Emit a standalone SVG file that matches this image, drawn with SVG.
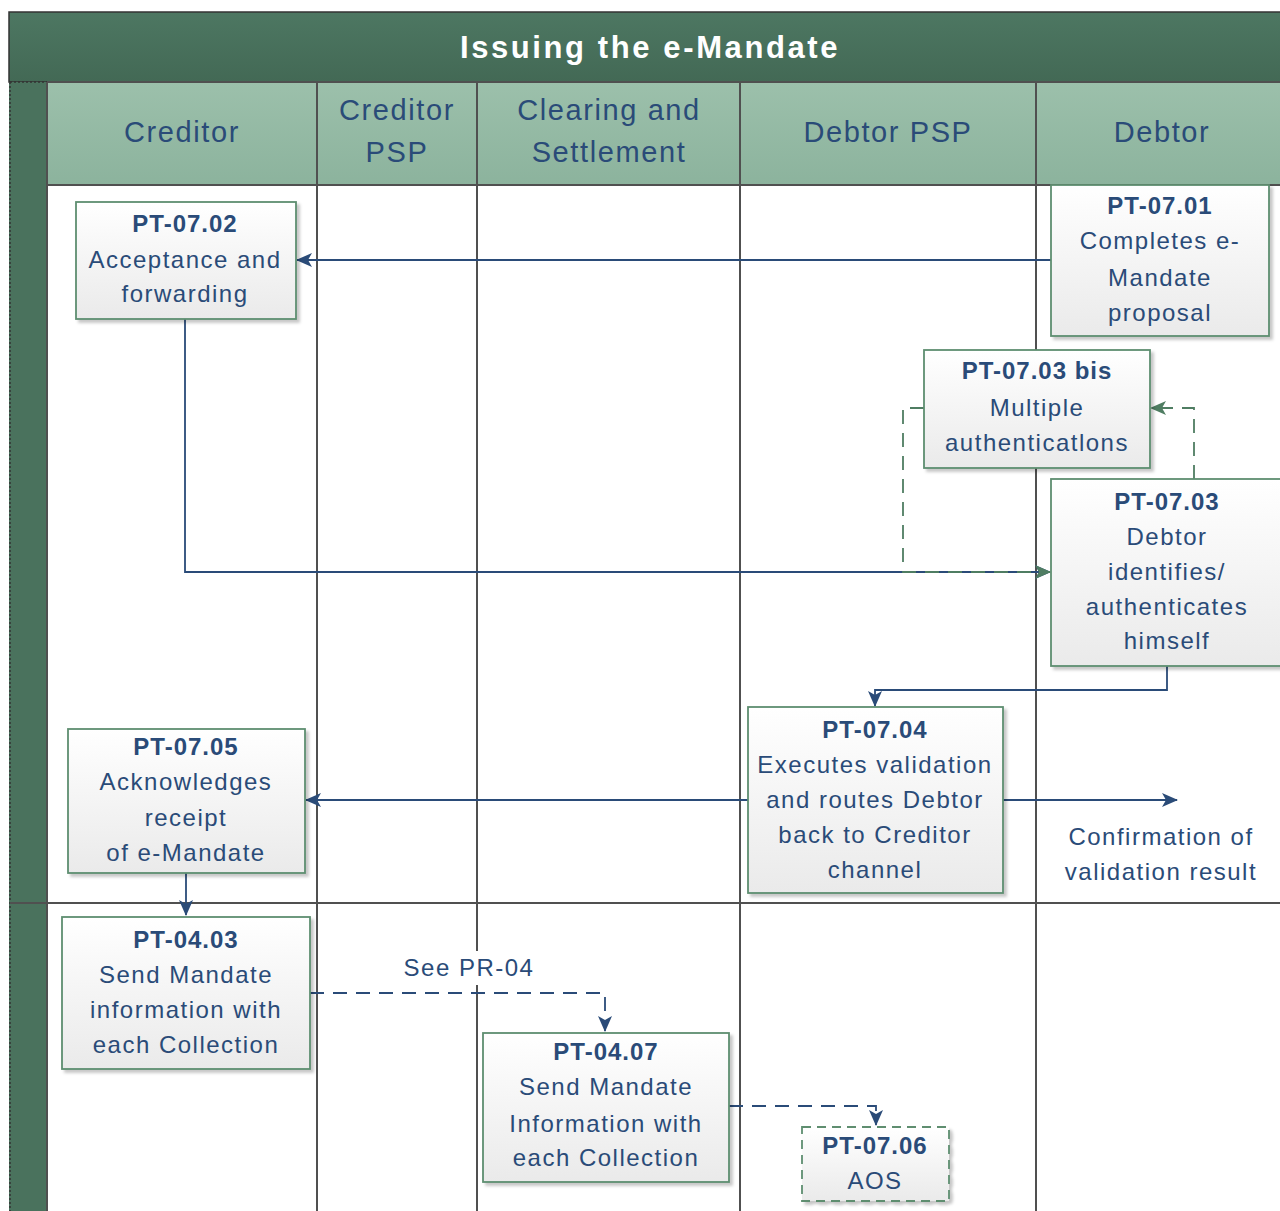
<svg xmlns="http://www.w3.org/2000/svg" width="1280" height="1211" viewBox="0 0 1280 1211">
<defs>
<linearGradient id="gTitle" x1="0" y1="0" x2="0" y2="1"><stop offset="0" stop-color="#4D7762"/><stop offset="1" stop-color="#436955"/></linearGradient>
<linearGradient id="gHead" x1="0" y1="0" x2="0" y2="1"><stop offset="0" stop-color="#9CC0AB"/><stop offset="1" stop-color="#8CB39D"/></linearGradient>
<linearGradient id="gBox" x1="0" y1="0" x2="0" y2="1"><stop offset="0" stop-color="#FFFFFF"/><stop offset="1" stop-color="#EAEAEA"/></linearGradient>
<filter id="shadow" x="-10%" y="-10%" width="130%" height="130%"><feDropShadow dx="3" dy="3" stdDeviation="1.5" flood-color="#000" flood-opacity="0.22"/></filter>
<marker id="arrB" markerUnits="userSpaceOnUse" viewBox="0 0 18 18" markerWidth="18" markerHeight="18" refX="16" refY="9" orient="auto"><path d="M1,2 L17,9 L1,16 L5,9 Z" fill="#2A4B78"/></marker>
<marker id="arrG" markerUnits="userSpaceOnUse" viewBox="0 0 18 18" markerWidth="18" markerHeight="18" refX="16" refY="9" orient="auto"><path d="M1,2 L17,9 L1,16 L5,9 Z" fill="#4F7D62"/></marker>
<style>
.box{fill:url(#gBox);stroke:#5E8E70;stroke-width:1.8;filter:url(#shadow)}
.dbox{fill:url(#gBox);stroke:#5E8E70;stroke-width:1.8;stroke-dasharray:9 6;filter:url(#shadow)}
.t{font-family:"Liberation Sans",Arial,sans-serif;font-size:24px;fill:#2A4B78;text-anchor:middle;letter-spacing:1.5px}
.b{font-weight:bold;letter-spacing:1px}
.h{font-family:"Liberation Sans",Arial,sans-serif;font-size:29px;fill:#2A4B78;text-anchor:middle;letter-spacing:1.6px}
.grid{stroke:#505050;stroke-width:2;fill:none}
.cb{stroke:#2A4B78;stroke-width:1.8;fill:none}
.cbd{stroke:#2A4B78;stroke-width:1.8;fill:none;stroke-dasharray:14 9}
.cgd{stroke:#4F7D62;stroke-width:1.8;fill:none;stroke-dasharray:14 9}
</style>
</defs>
<rect width="1280" height="1211" fill="#FFFFFF"/>
<g id="pool">
<rect x="9" y="12" width="1280" height="70" fill="url(#gTitle)" stroke="#333" stroke-width="1.5"/>
<text x="650" y="58" font-family="'Liberation Sans',Arial,sans-serif" font-size="31" font-weight="bold" fill="#FFFFFF" text-anchor="middle" letter-spacing="2.6">Issuing the e-Mandate</text>
<rect x="9" y="82" width="38" height="1135" fill="#4A725D"/>
<line x1="10" y1="82" x2="10" y2="1211" stroke="#333" stroke-width="1.5" stroke-dasharray="2 2"/>
<line x1="10" y1="82" x2="47" y2="82" stroke="#333" stroke-width="1.5" stroke-dasharray="2 2"/>
<rect x="47" y="82" width="1240" height="103" fill="url(#gHead)"/>
</g>
<g id="grid" class="grid">
<line x1="47" y1="82" x2="1280" y2="82"/>
<line x1="47" y1="185" x2="1280" y2="185"/>
<line x1="47" y1="82" x2="47" y2="1211"/>
<line x1="317" y1="82" x2="317" y2="1211"/>
<line x1="477" y1="82" x2="477" y2="1211"/>
<line x1="740" y1="82" x2="740" y2="1211"/>
<line x1="1036" y1="82" x2="1036" y2="1211"/>
<line x1="10" y1="903" x2="1280" y2="903"/>
</g>
<g id="headers">
<text class="h" x="182" y="142">Creditor</text>
<text class="h" x="397" y="120">Creditor</text>
<text class="h" x="397" y="162">PSP</text>
<text class="h" x="609" y="120">Clearing and</text>
<text class="h" x="609" y="162">Settlement</text>
<text class="h" x="888" y="142">Debtor PSP</text>
<text class="h" x="1162" y="142">Debtor</text>
</g>
<g id="connectors">
<line class="cb" x1="1051" y1="260" x2="297" y2="260" marker-end="url(#arrB)"/>
<polyline class="cb" points="185,319 185,572 1050,572" marker-end="url(#arrB)"/>
<polyline class="cgd" points="924,408 903,408 903,572 1050,572" marker-end="url(#arrG)"/>
<polyline class="cgd" points="1194,479 1194,408 1151,408" marker-end="url(#arrG)"/>
<polyline class="cb" points="1167,666 1167,690 875,690 875,706" marker-end="url(#arrB)"/>
<line class="cb" x1="748" y1="800" x2="306" y2="800" marker-end="url(#arrB)"/>
<line class="cb" x1="1003" y1="800" x2="1177" y2="800" marker-end="url(#arrB)"/>
<line class="cb" x1="186" y1="873" x2="186" y2="915" marker-end="url(#arrB)"/>
<polyline class="cbd" points="310,993 605,993 605,1031" marker-end="url(#arrB)"/>
<polyline class="cbd" points="729,1106 876,1106 876,1125" marker-end="url(#arrB)"/>
<rect x="404" y="951" width="130" height="34" fill="#FFFFFF"/>
<text class="t" x="469" y="976">See PR-04</text>
<text class="t" x="1161" y="845">Confirmation of</text>
<text class="t" x="1161" y="880">validation result</text>
</g>
<g id="PT-07.02">
<rect class="box" x="76" y="202" width="220" height="117"/>
<text class="t b" x="185" y="232">PT-07.02</text>
<text class="t" x="185" y="268">Acceptance and</text>
<text class="t" x="185" y="302">forwarding</text>
</g>
<g id="PT-07.01">
<rect class="box" x="1051" y="185" width="218" height="151"/>
<text class="t b" x="1160" y="214">PT-07.01</text>
<text class="t" x="1160" y="249">Completes e-</text>
<text class="t" x="1160" y="286">Mandate</text>
<text class="t" x="1160" y="321">proposal</text>
</g>
<g id="PT-07.03bis">
<rect class="box" x="924" y="350" width="226" height="118"/>
<text class="t b" x="1037" y="379">PT-07.03 bis</text>
<text class="t" x="1037" y="416">Multiple</text>
<text class="t" x="1037" y="451">authenticatlons</text>
</g>
<g id="PT-07.03">
<rect class="box" x="1051" y="479" width="234" height="187"/>
<text class="t b" x="1167" y="510">PT-07.03</text>
<text class="t" x="1167" y="545">Debtor</text>
<text class="t" x="1167" y="580">identifies/</text>
<text class="t" x="1167" y="615">authenticates</text>
<text class="t" x="1167" y="649">himself</text>
</g>
<g id="PT-07.04">
<rect class="box" x="748" y="707" width="255" height="186"/>
<text class="t b" x="875" y="738">PT-07.04</text>
<text class="t" x="875" y="773">Executes validation</text>
<text class="t" x="875" y="808">and routes Debtor</text>
<text class="t" x="875" y="843">back to Creditor</text>
<text class="t" x="875" y="878">channel</text>
</g>
<g id="PT-07.05">
<rect class="box" x="68" y="729" width="237" height="144"/>
<text class="t b" x="186" y="755">PT-07.05</text>
<text class="t" x="186" y="790">Acknowledges</text>
<text class="t" x="186" y="826">receipt</text>
<text class="t" x="186" y="861">of e-Mandate</text>
</g>
<g id="PT-04.03">
<rect class="box" x="62" y="917" width="248" height="152"/>
<text class="t b" x="186" y="948">PT-04.03</text>
<text class="t" x="186" y="983">Send Mandate</text>
<text class="t" x="186" y="1018">information with</text>
<text class="t" x="186" y="1053">each Collection</text>
</g>
<g id="PT-04.07">
<rect class="box" x="483" y="1033" width="246" height="149"/>
<text class="t b" x="606" y="1060">PT-04.07</text>
<text class="t" x="606" y="1095">Send Mandate</text>
<text class="t" x="606" y="1132">Information with</text>
<text class="t" x="606" y="1166">each Collection</text>
</g>
<g id="PT-07.06">
<rect class="dbox" x="802" y="1127" width="147" height="74"/>
<text class="t b" x="875" y="1154">PT-07.06</text>
<text class="t" x="875" y="1189">AOS</text>
</g>
</svg>
